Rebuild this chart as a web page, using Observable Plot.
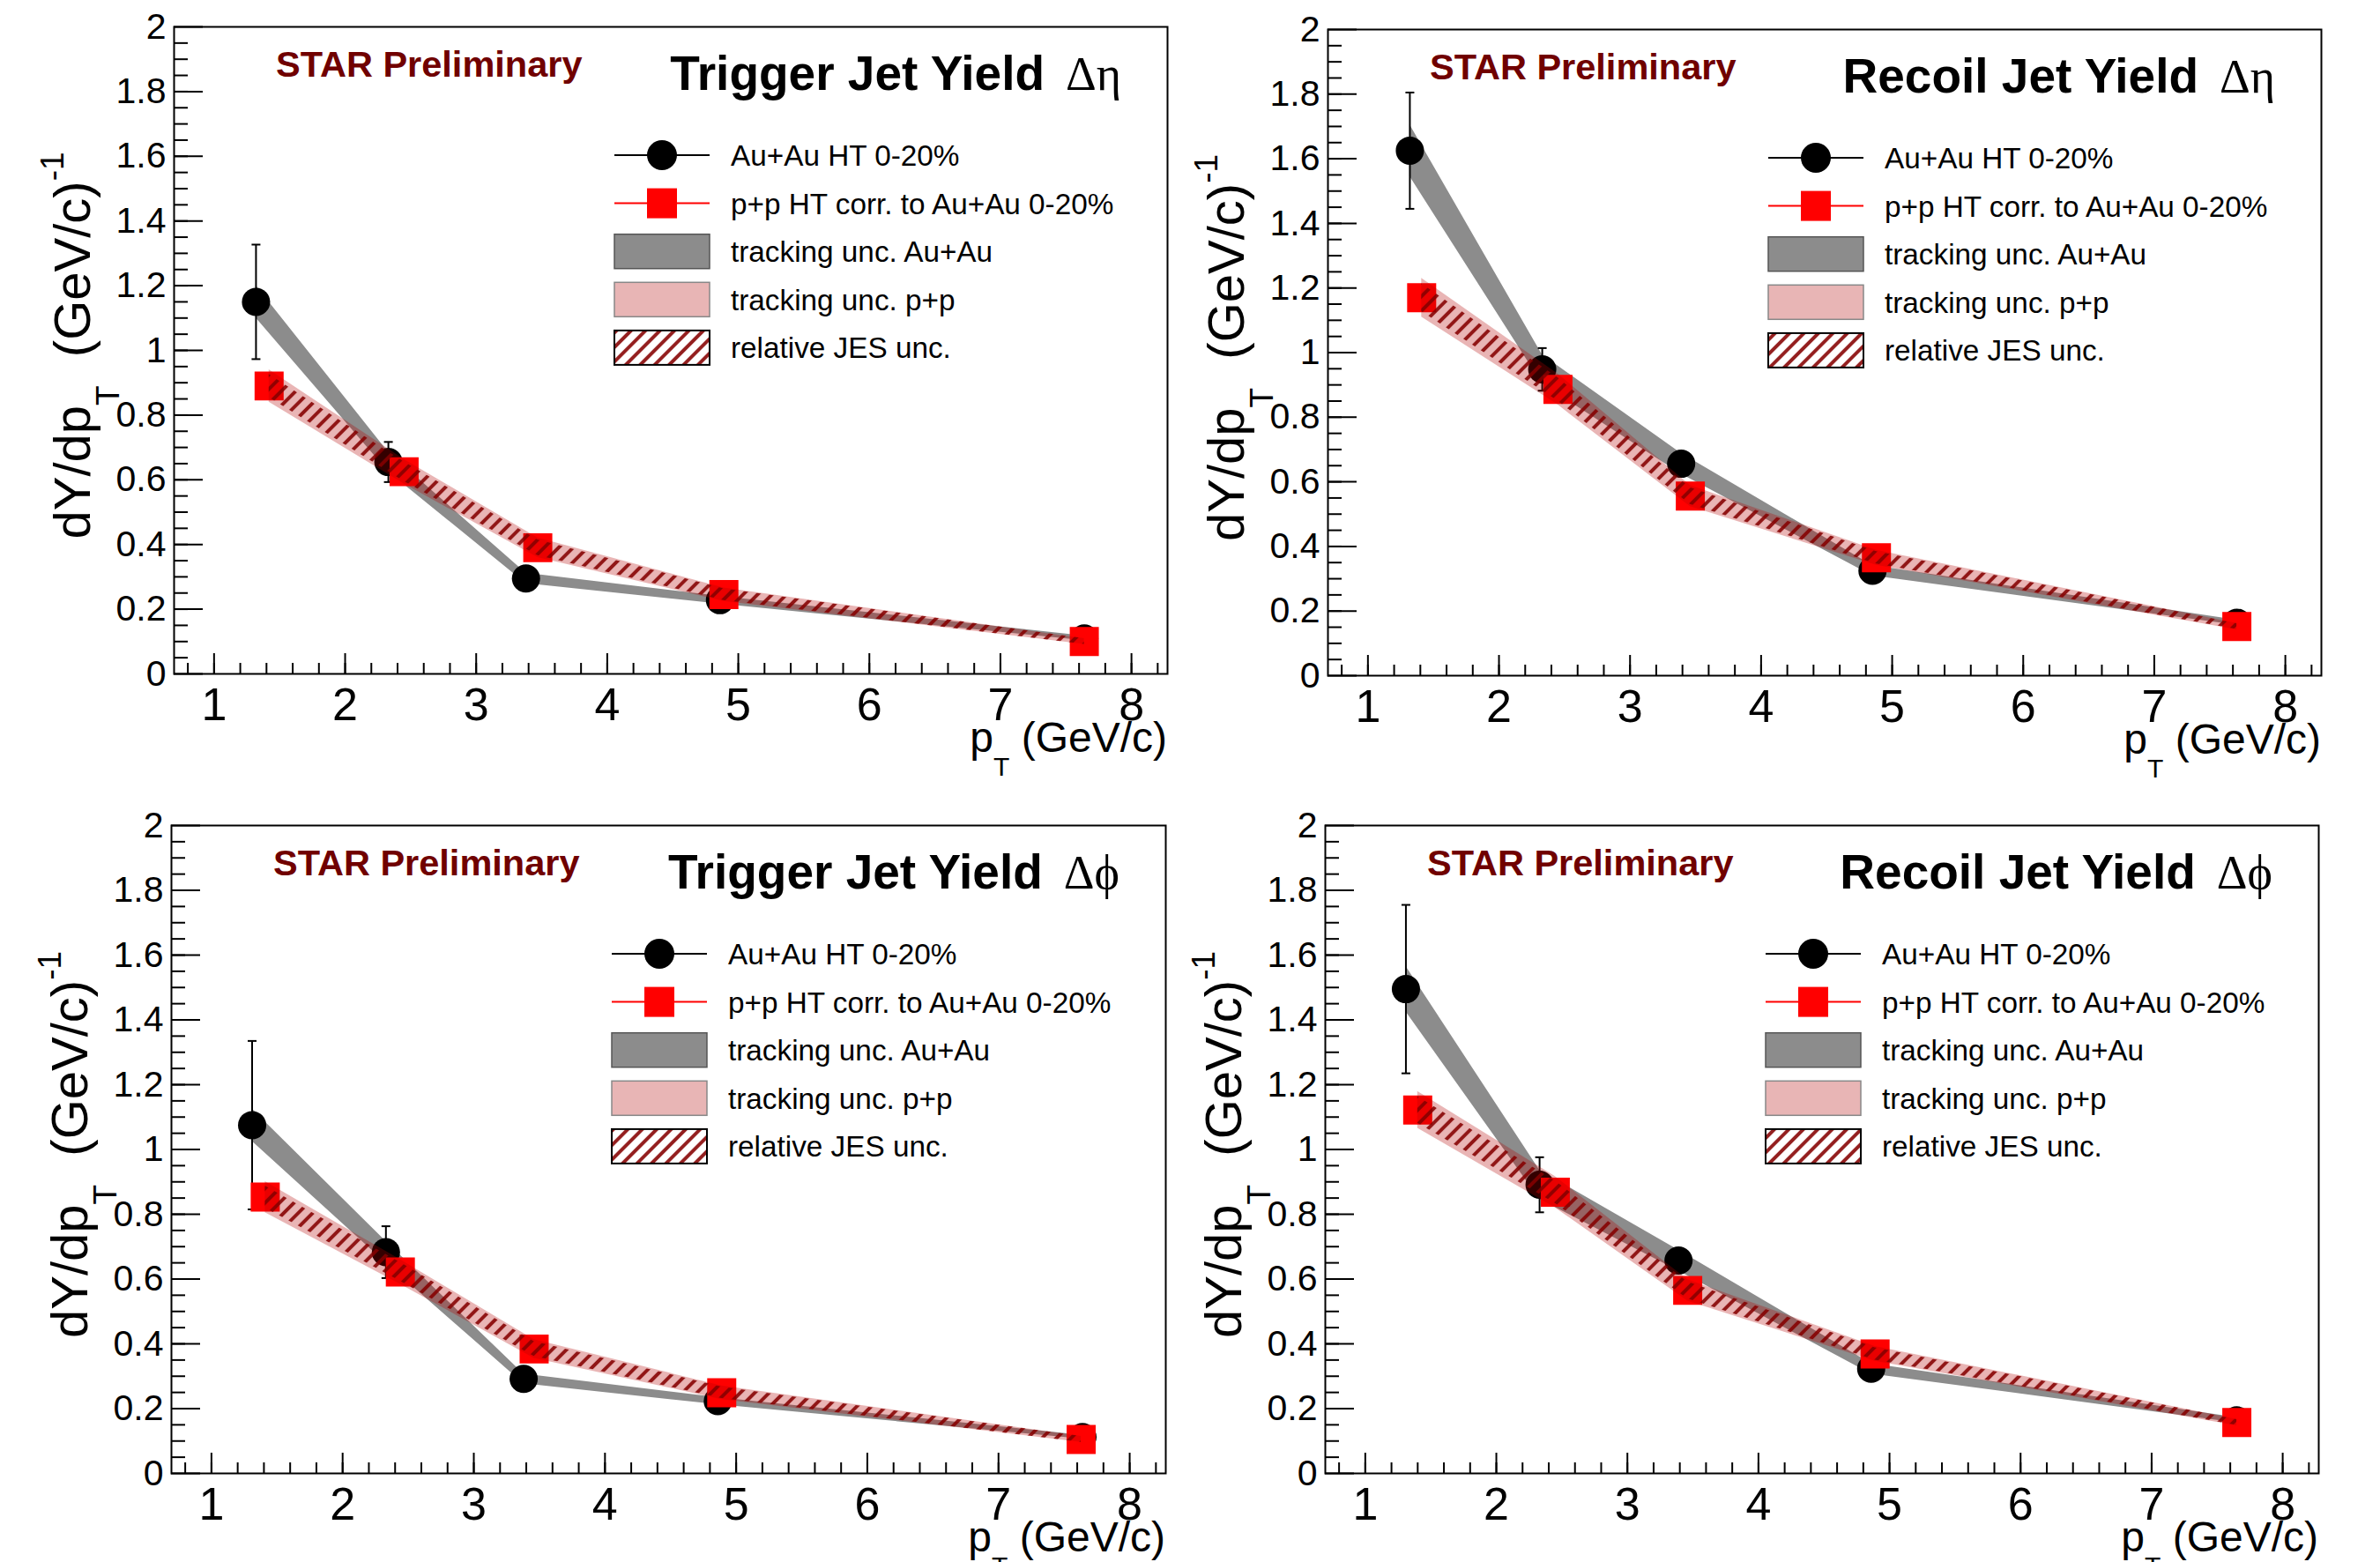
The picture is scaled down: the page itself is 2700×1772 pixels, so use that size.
<!DOCTYPE html>
<html><head><meta charset="utf-8">
<script src="https://cdn.jsdelivr.net/npm/d3@7"></script>
<script src="https://cdn.jsdelivr.net/npm/@observablehq/plot@0.6"></script>
<style>
html,body{margin:0;padding:0;background:#fff;}
#fig{position:relative;width:2700px;height:1772px;overflow:hidden;background:#fff;}
#fig svg{position:absolute;}
</style></head><body><div id="fig"></div>
<script>
// ---------- axes / ticks ----------
const xDomain = [0.695, 8.275];
const yDomain = [0, 2];
const xTickValues = [1, 2, 3, 4, 5, 6, 7, 8];
const yTickValues = [0, 0.2, 0.4, 0.6, 0.8, 1, 1.2, 1.4, 1.6, 1.8, 2];
const xMinorTicks = d3.range(0.8, 8.25, 0.2);
const yMinorTicks = d3.range(0.05, 2, 0.05);

// ---------- legend / labels ----------
const legendLabels = ["Au+Au HT 0-20%", "p+p HT corr. to Au+Au 0-20%", "tracking unc. Au+Au", "tracking unc. p+p", "relative JES unc."];
const starLabel = "STAR Preliminary";

// ---------- Top-left: Trigger Jet Yield Δη ----------
const tlTitle = "Trigger Jet Yield", tlSym = "\u0394\u03B7";
const tlAuAuPt = [1.32, 2.33, 3.38, 4.86, 7.64];
const tlAuAuYield = [1.15, 0.655, 0.295, 0.228, 0.11];
const tlAuAuStat = [0.177, 0.062, 0.012, 0.01, 0.008];
const tlAuAuTrk = [0.05, 0.03, 0.016, 0.012, 0.007];
const tlPpPt = [1.42, 2.45, 3.47, 4.89, 7.64];
const tlPpYield = [0.89, 0.625, 0.39, 0.245, 0.10];
const tlPpTrk = [0.05, 0.038, 0.03, 0.021, 0.009];
const tlPpJes = [0.036, 0.03, 0.024, 0.018, 0.009];

// ---------- Top-right: Recoil Jet Yield Δη ----------
const trTitle = "Recoil Jet Yield", trSym = "\u0394\u03B7";
const trAuAuPt = [1.32, 2.33, 3.39, 4.85, 7.63];
const trAuAuYield = [1.625, 0.948, 0.656, 0.325, 0.164];
const trAuAuStat = [0.18, 0.066, 0.015, 0.01, 0.01];
const trAuAuTrk = [0.08, 0.045, 0.032, 0.016, 0.008];
const trPpPt = [1.41, 2.45, 3.46, 4.88, 7.63];
const trPpYield = [1.17, 0.886, 0.556, 0.365, 0.152];
const trPpTrk = [0.06, 0.048, 0.033, 0.023, 0.01];
const trPpJes = [0.043, 0.036, 0.026, 0.019, 0.009];

// ---------- Bottom-left: Trigger Jet Yield Δφ ----------
const blTitle = "Trigger Jet Yield", blSym = "\u0394\u03D5";
const blAuAuPt = [1.31, 2.33, 3.38, 4.86, 7.64];
const blAuAuYield = [1.075, 0.683, 0.292, 0.223, 0.112];
const blAuAuStat = [0.26, 0.08, 0.012, 0.01, 0.008];
const blAuAuTrk = [0.05, 0.033, 0.015, 0.011, 0.006];
const blPpPt = [1.41, 2.44, 3.46, 4.89, 7.63];
const blPpYield = [0.853, 0.622, 0.384, 0.249, 0.105];
const blPpTrk = [0.048, 0.038, 0.029, 0.021, 0.009];
const blPpJes = [0.034, 0.029, 0.023, 0.018, 0.009];

// ---------- Bottom-right: Recoil Jet Yield Δφ ----------
const brTitle = "Recoil Jet Yield", brSym = "\u0394\u03D5";
const brAuAuPt = [1.31, 2.33, 3.39, 4.86, 7.65];
const brAuAuYield = [1.495, 0.891, 0.657, 0.323, 0.164];
const brAuAuStat = [0.26, 0.085, 0.015, 0.01, 0.01];
const brAuAuTrk = [0.07, 0.045, 0.032, 0.016, 0.008];
const brPpPt = [1.40, 2.45, 3.46, 4.89, 7.65];
const brPpYield = [1.122, 0.868, 0.565, 0.369, 0.157];
const brPpTrk = [0.057, 0.048, 0.033, 0.023, 0.01];
const brPpJes = [0.041, 0.035, 0.026, 0.019, 0.009];

// ---------- style ----------
const FONT = "'Liberation Sans', Arial, Helvetica, sans-serif";
const SERIF = "'Liberation Serif', 'Times New Roman', serif";
const GRAY = "#8c8c8c";
const PINK = "#b40000", PINK_OP = 0.29, PINK_SOLID = "#e8b5b5";
const RED = "#ff0000";
const JES = "#850000";
const STAR_COLOR = "#700000";
const NS = "http://www.w3.org/2000/svg";

function el(tag, attrs = {}, txt) {
  const e = document.createElementNS(NS, tag);
  for (const [k, v] of Object.entries(attrs)) e.setAttribute(k, v);
  if (txt != null) e.textContent = txt;
  return e;
}

function hatchDefs(id) {
  return () => {
    const defs = el("defs");
    const pat = el("pattern", {id, patternUnits: "userSpaceOnUse", width: 11.6, height: 11.6, patternTransform: "rotate(45)"});
    pat.append(el("line", {x1: 5.8, y1: -1, x2: 5.8, y2: 12.6, stroke: JES, "stroke-width": 4, "stroke-opacity": 0.88}));
    defs.append(pat);
    return defs;
  };
}

const capSymbol = {draw(ctx) { ctx.moveTo(-5, 0); ctx.lineTo(5, 0); }};

function annotations(p) {
  return (index, scales, values, dim) => {
    const L = dim.marginLeft, R = dim.width - dim.marginRight;
    const T = dim.marginTop, B = dim.height - dim.marginBottom;
    const g = el("g", {"font-family": FONT, fill: "black", "text-anchor": "start", style: "white-space:pre"});
    g.append(el("text", {x: L + 116, y: T + 57, "font-size": 41.5, "font-weight": "bold", fill: STAR_COLOR, "text-anchor": "start"}, starLabel));
    const t = el("text", {x: R - 52, y: T + 72, "text-anchor": "end", "font-size": 54});
    t.append(el("tspan", {"font-weight": "bold", "font-size": 55}, p.title));
    t.append(el("tspan", {"font-family": SERIF, dx: 24}, p.sym));
    g.append(t);
    // y title
    const cy = (T + B) / 2 - 5;
    const yt = el("text", {transform: `translate(${L - 95},${cy}) rotate(-90)`, "text-anchor": "middle", "font-size": 58});
    yt.append(el("tspan", {}, "dY/dp"));
    yt.append(el("tspan", {"font-size": 37, dy: 33}, "T"));
    yt.append(el("tspan", {dy: -33}, "  (GeV/c)"));
    yt.append(el("tspan", {"font-size": 37, dy: -30}, "-1"));
    g.append(yt);
    // x title
    const xt = el("text", {x: R, y: B + 89, "text-anchor": "end", "font-size": 48});
    xt.append(el("tspan", {}, "p"));
    xt.append(el("tspan", {"font-size": 30, dy: 27}, "T"));
    xt.append(el("tspan", {dy: -27}, " (GeV/c)"));
    g.append(xt);
    // legend
    const lx = L + 500, lw = 108, tx = L + 632, ly0 = T + 146, step = 54.6, bh = 39;
    const rowY = i => ly0 + i * step;
    g.append(el("line", {x1: lx, x2: lx + lw, y1: rowY(0), y2: rowY(0), stroke: "black", "stroke-width": 2}));
    g.append(el("circle", {cx: lx + lw / 2, cy: rowY(0), r: 17, fill: "black"}));
    g.append(el("line", {x1: lx, x2: lx + lw, y1: rowY(1), y2: rowY(1), stroke: RED, "stroke-width": 2}));
    g.append(el("rect", {x: lx + lw / 2 - 17, y: rowY(1) - 17, width: 34, height: 34, fill: RED}));
    g.append(el("rect", {x: lx, y: rowY(2) - bh / 2, width: lw, height: bh, fill: GRAY, stroke: "#555", "stroke-width": 1.5}));
    g.append(el("rect", {x: lx, y: rowY(3) - bh / 2, width: lw, height: bh, fill: PINK_SOLID, stroke: "#888", "stroke-width": 1.5}));
    g.append(el("rect", {x: lx, y: rowY(4) - bh / 2, width: lw, height: bh, fill: "white"}));
    g.append(el("rect", {x: lx, y: rowY(4) - bh / 2, width: lw, height: bh, fill: `url(#${p.id})`, stroke: "black", "stroke-width": 2}));
    legendLabels.forEach((s, i) => g.append(el("text", {x: tx, y: rowY(i) + 12, "font-size": 33.3, "text-anchor": "start"}, s)));
    return g;
  };
}

function panel(p) {
  const aa = p.aaPt.map((x, i) => ({x, y: p.aaY[i], stat: p.aaStat[i], trk: p.aaTrk[i]}));
  const pp = p.ppPt.map((x, i) => ({x, y: p.ppY[i], trk: p.ppTrk[i], jes: p.ppJes[i]}));
  const svg = Plot.plot({
    width: 1350, height: 886,
    marginLeft: p.m[0], marginRight: p.m[1], marginTop: p.m[2], marginBottom: p.m[3],
    x: {domain: xDomain},
    y: {domain: yDomain},
    style: {fontFamily: FONT, background: "white", color: "black", overflow: "visible"},
    marks: [
      hatchDefs(p.id),
      Plot.areaY(aa, {x: "x", y1: d => d.y - d.trk, y2: d => d.y + d.trk, fill: GRAY}),
      Plot.ruleX(aa, {x: "x", y1: d => d.y - d.stat, y2: d => d.y + d.stat, stroke: "black", strokeWidth: 2}),
      Plot.dot(aa, {x: "x", y: d => d.y + d.stat, symbol: capSymbol, stroke: "black", strokeWidth: 2}),
      Plot.dot(aa, {x: "x", y: d => d.y - d.stat, symbol: capSymbol, stroke: "black", strokeWidth: 2}),
      Plot.dot(aa, {x: "x", y: "y", r: 16, fill: "black"}),
      Plot.dot(pp, {x: "x", y: "y", symbol: "square", r: 18.6, fill: RED}),
      Plot.areaY(pp, {x: "x", y1: d => d.y - d.trk, y2: d => d.y + d.trk, fill: PINK, fillOpacity: PINK_OP}),
      Plot.areaY(pp, {x: "x", y1: d => d.y - d.jes, y2: d => d.y + d.jes, fill: `url(#${p.id})`}),
      Plot.frame({stroke: "black", strokeWidth: 2}),
      Plot.axisX({ticks: xMinorTicks, tickSize: -12, fill: "none", label: null, strokeWidth: 2}),
      Plot.axisX({ticks: xTickValues, tickSize: -23, fill: "none", label: null, strokeWidth: 2}),
      Plot.axisX({ticks: xTickValues, tickSize: 0, tickPadding: 16, fontSize: 52, tickFormat: d => String(d), label: null}),
      Plot.axisY({ticks: yMinorTicks, tickSize: -16, fill: "none", label: null, strokeWidth: 2}),
      Plot.axisY({ticks: yTickValues, tickSize: -33, fill: "none", label: null, strokeWidth: 2}),
      Plot.axisY({ticks: yTickValues, tickSize: 0, tickPadding: 9, fontSize: 41, tickFormat: d => String(d), label: null}),
      annotations(p)
    ]
  });
  svg.style.left = p.pos[0] + "px";
  svg.style.top = p.pos[1] + "px";
  document.getElementById("fig").append(svg);
}

panel({id: "hatchTL", title: tlTitle, sym: tlSym, pos: [0, 0], m: [197, 26, 30, 122],
  aaPt: tlAuAuPt, aaY: tlAuAuYield, aaStat: tlAuAuStat, aaTrk: tlAuAuTrk,
  ppPt: tlPpPt, ppY: tlPpYield, ppTrk: tlPpTrk, ppJes: tlPpJes});
panel({id: "hatchTR", title: trTitle, sym: trSym, pos: [1350, 0], m: [156, 67, 33, 120],
  aaPt: trAuAuPt, aaY: trAuAuYield, aaStat: trAuAuStat, aaTrk: trAuAuTrk,
  ppPt: trPpPt, ppY: trPpYield, ppTrk: trPpTrk, ppJes: trPpJes});
panel({id: "hatchBL", title: blTitle, sym: blSym, pos: [0, 886], m: [194, 28, 50, 101],
  aaPt: blAuAuPt, aaY: blAuAuYield, aaStat: blAuAuStat, aaTrk: blAuAuTrk,
  ppPt: blPpPt, ppY: blPpYield, ppTrk: blPpTrk, ppJes: blPpJes});
panel({id: "hatchBR", title: brTitle, sym: brSym, pos: [1350, 886], m: [153, 70, 50, 101],
  aaPt: brAuAuPt, aaY: brAuAuYield, aaStat: brAuAuStat, aaTrk: brAuAuTrk,
  ppPt: brPpPt, ppY: brPpYield, ppTrk: brPpTrk, ppJes: brPpJes});
</script></body></html>
